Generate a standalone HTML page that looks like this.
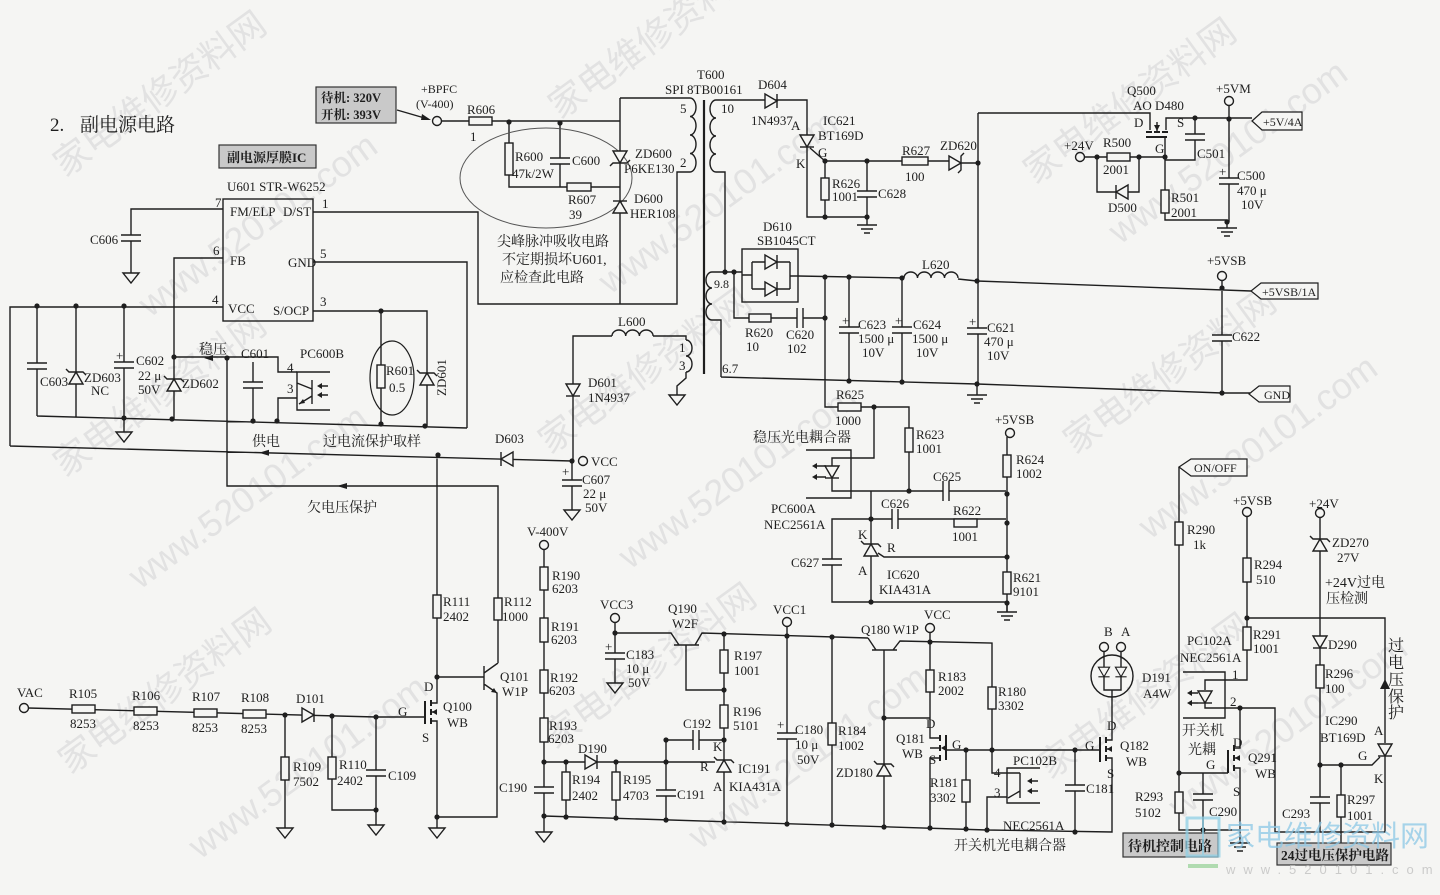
<!DOCTYPE html>
<html><head><meta charset="utf-8"><style>
html,body{margin:0;padding:0;background:#f5f5f3;}
svg{display:block}
.w{fill:none;stroke:#1e1e1e;stroke-width:1.4}
.f{fill:#f5f5f3;stroke:#1e1e1e;stroke-width:1.4}
.b{fill:#1e1e1e;stroke:none}
text{font-family:"Liberation Serif","Noto Serif CJK SC",serif;font-size:13px;fill:#1e1e1e}
.cn{font-family:"Liberation Serif","Noto Serif CJK SC",serif;font-size:14px}
.wm text{font-family:"Liberation Sans","Noto Sans CJK SC",sans-serif;font-size:36px;fill:#e2e2e2}
.vt text{font-family:"Liberation Serif","Noto Serif CJK SC",serif;font-size:16px}
</style></head><body>
<svg width="1440" height="895" viewBox="0 0 1440 895" xmlns="http://www.w3.org/2000/svg">
<defs>
<g id="cv"><rect x="-11" y="-3" width="22" height="6" fill="#f5f5f3"/><path class="w" d="M-10 -3h20M-10 3h20"/></g>
<g id="ch"><rect x="-3" y="-11" width="6" height="22" fill="#f5f5f3"/><path class="w" d="M-3 -10v20M3 -10v20"/></g>
<path id="gnd" class="w" d="M-8 0h16l-8 10z"/>
<path id="earth" class="w" d="M-10 0h20M-6 4h12M-3 8h6"/>
<g id="dd"><path class="f" d="M-7 -6h14l-7 12z"/><path class="w" d="M-7 6h14"/></g>
<g id="du"><path class="f" d="M-7 6h14l-7 -12z"/><path class="w" d="M-7 -6h14"/></g>
<g id="dr"><path class="f" d="M-6 -7v14l12 -7z"/><path class="w" d="M6 -7v14"/></g>
<g id="dl"><path class="f" d="M6 -7v14l-12 -7z"/><path class="w" d="M-6 -7v14"/></g>
<g id="zu"><path class="f" d="M-7 6h14l-7 -12z"/><path class="w" d="M-10 -9l3 3h14l3 3"/></g>
<g id="zd"><path class="f" d="M-7 -6h14l-7 12z"/><path class="w" d="M-10 9l3 -3h14l3 -3"/></g>
<g id="zr"><path class="f" d="M-6 -7v14l12 -7z"/><path class="w" d="M9 -10l-3 3v14l-3 3"/></g>
</defs>
<rect width="1440" height="895" fill="#f5f5f3"/>

<!-- watermarks -->
<g class="wm">
<text transform="translate(65,178) rotate(-36)">家电维修资料网</text>
<text transform="translate(150,318) rotate(-36)">www.520101.com</text>
<text transform="translate(65,478) rotate(-36)">家电维修资料网</text>
<text transform="translate(140,590) rotate(-36)">www.520101.com</text>
<text transform="translate(70,775) rotate(-36)">家电维修资料网</text>
<text transform="translate(200,860) rotate(-36)">www.520101.com</text>
<text transform="translate(560,120) rotate(-36)">家电维修资料网</text>
<text transform="translate(610,295) rotate(-36)">www.520101.com</text>
<text transform="translate(550,455) rotate(-36)">家电维修资料网</text>
<text transform="translate(630,570) rotate(-36)">www.520101.com</text>
<text transform="translate(555,750) rotate(-36)">家电维修资料网</text>
<text transform="translate(700,850) rotate(-36)">www.520101.com</text>
<text transform="translate(1035,185) rotate(-36)">家电维修资料网</text>
<text transform="translate(1120,245) rotate(-36)">www.520101.com</text>
<text transform="translate(1075,455) rotate(-36)">家电维修资料网</text>
<text transform="translate(1150,540) rotate(-36)">www.520101.com</text>
<text transform="translate(1050,780) rotate(-36)">家电维修资料网</text>
<text transform="translate(1180,820) rotate(-36)">www.520101.com</text>
</g>

<!-- title -->
<text x="50" y="131" style="font-size:19px">2.</text>
<text x="80" y="131" class="cn" style="font-size:19px">副电源电路</text>

<!-- grey boxes -->
<rect x="316" y="87" width="80" height="36" fill="#c9c9c9" stroke="#333" stroke-width="1.2"/>
<text x="321" y="102" class="cn" style="font-size:12.5px;font-weight:bold">待机: 320V</text>
<text x="321" y="119" class="cn" style="font-size:12.5px;font-weight:bold">开机: 393V</text>
<rect x="219" y="145" width="97" height="23" fill="#c9c9c9" stroke="#333" stroke-width="1.2"/>
<text x="227" y="162" class="cn" style="font-size:13px;font-weight:bold">副电源厚膜IC</text>
<path class="w" d="M397 110L428 119"/><path class="b" d="M431 120l-9 -6 -1 6z"/>

<!-- ================= wires ================= -->
<path class="w" d="
M223 209H131V273
M223 258H174V419
M223 307H10V446
M10 446L572 461
M37 306V416
M76 306V417
M124 306V432
M37 416L467 428
M174 357H278V372H297
M253 362V421
M297 398H278V421
M227 358V486H498V663
M313 311H427V426
M381 311V424
M313 262H467V428
M313 212H478V304H677V172H690
M441 121H620
M620 98V304
M620 98H690
M509 122V187H620
M560 123V187
M716 100H807V217H867
M716 172H725V272
M712 272H742
M734 272V318H825
M712 320H721V377
M721 377L977 384L1222 393H1250
M742 275H752 M752 262V289 M752 262H790 M752 289H790 M790 262V289 M790 276H798
M798 276L904 278
M958 279L977 281L1251 291
M849 277V381
M902 278V382
M978 113V385
M825 277V407H909V491
M874 407V458H832V466
M832 478V491H1006
M871 491V602
M871 519H1006
M871 519H832V602H1006
M878 553L884 557H1006
M1007 437V612
M810 148L825 161H950
M961 163H978
M825 161V217
M867 161V225
M978 113H1150V130
M1166 130V118H1252
M1165 137V220H1227V228
M1084 157H1165
M1097 157V192H1139V157
M1195 118V160H1165
M1229 105V222
M1222 280V393
M573 461V336H612
M653 336H686V340
M686 372V378L677 386V395
M572 461V510
M544 549V832
M544 762H715
M566 762V817
M616 762V818
M666 740V820
M666 740H724
M724 634V822
M686 645V690H724
M615 633H671L679 645
M674 645H699
M695 645L702 633L868 638
M868 638L876 650
M872 650H897
M893 650L900 641L992 643V773H1020
M615 622V683
M787 626V824
M832 637V825
M884 650V827
M884 718H930
M930 632V738H940
M940 748H930
M940 758H930V828
M946 750H1100
M966 750V829
M1007 797H987V830
M544 816L987 830L1112 832V758H1106
M1075 750V832
M1106 740H1112V690
M1106 749H1112
M1104 651V690H1121V651
M1179 467V830H1240
M1247 516V680H1205V690
M1205 703V708H1275V832H1385V756
M1247 618H1385V743
M1240 708V748H1234
M1234 758H1240
M1234 768H1240V843
M1179 773H1228
M1203 773V830
M1320 517V832
M1320 765H1372L1380 757
M1341 765V843
M28 708L376 717H425
M437 455V703H431
M431 712H437
M431 721H437V828
M437 677H484
M484 666V690
M484 673L498 663
M484 684L497 693V817H437
M285 715V828
M332 716V810H376
M376 717V825
"/>
<!-- coils -->
<path class="w" d="M690 98a6 9.25 0 0 1 0 18.5a6 9.25 0 0 1 0 18.5a6 9.25 0 0 1 0 18.5a6 9.25 0 0 1 0 18.5"/>
<path class="w" d="M716 100a6 9 0 0 0 0 18a6 9 0 0 0 0 18a6 9 0 0 0 0 18a6 9 0 0 0 0 18"/>
<path class="w" d="M712 272a6 8 0 0 0 0 16a6 8 0 0 0 0 16a6 8 0 0 0 0 16"/>
<path class="w" d="M686 340a6 8 0 0 1 0 16a6 8 0 0 1 0 16"/>
<path class="w" d="M612 336a6.85 6 0 0 1 13.7 0a6.85 6 0 0 1 13.7 0a6.85 6 0 0 1 13.7 0"/>
<path class="w" d="M904 278a6.75 6 0 0 1 13.5 0a6.75 6 0 0 1 13.5 0a6.75 6 0 0 1 13.5 0a6.75 6 0 0 1 13.5 0"/>
<path class="w" style="stroke-width:2.2" d="M704 100V374"/>

<!-- U601 box -->
<rect class="w" x="223" y="199" width="90" height="122"/>
<!-- D610 box -->
<rect class="w" x="742" y="249" width="56" height="53"/>
<!-- ellipses -->
<ellipse cx="546" cy="178" rx="86" ry="50" fill="none" stroke="#555" stroke-width="1"/>
<ellipse cx="392" cy="378" rx="22" ry="37" fill="none" stroke="#1e1e1e" stroke-width="1.2"/>

<!-- PC600B -->
<path class="w" d="M330 372H297V410H330M312 380V404M297 383L312 389M312 396L299 404"/>
<path class="b" d="M299 404l6 -1 -2 -4z"/>
<path class="w" d="M328 386h-8M328 395h-8"/><path class="b" d="M317 386l5 -3v6zM317 395l5 -3v6z"/>
<!-- PC600A -->
<path class="w" d="M806 450H851V498H806"/>
<path class="w" d="M826 466h-10M826 477h-10"/><path class="b" d="M812 466l5 -3v6zM812 477l5 -3v6z"/>
<!-- PC102B -->
<path class="w" d="M1040 768H1007V803H1040M1020 776V798M1020 773V779M1020 791L1008 798"/>
<path class="w" d="M1038 781h-8M1038 791h-8"/><path class="b" d="M1027 781l5 -3v6zM1027 791l5 -3v6z"/>
<!-- PC102A -->
<path class="w" d="M1183 672H1225V718H1183"/>
<path class="w" d="M1198 693h-8M1198 703h-8"/><path class="b" d="M1187 693l5 -3v6zM1187 703l5 -3v6z"/>

<!-- MOSFETs -->
<path class="w" style="stroke-width:2" d="M1146 132h6M1154 132h6M1162 132h6M1146 137H1167"/>
<path class="w" d="M1157 132V122"/>
<path class="w" style="stroke-width:2" d="M425 701V724M431 700v6M431 709v6M431 718v6"/>
<path class="w" style="stroke-width:2" d="M946 735V760M940 735v6M940 745v6M940 755v6"/>
<path class="w" style="stroke-width:2" d="M1100 737V762M1106 737v6M1106 746v6M1106 755v6"/>
<path class="w" style="stroke-width:2" d="M1228 750V773M1234 745v6M1234 755v6M1234 765v6"/>
<path class="b" d="M432 712l5 -3v6zM941 748l5 -3v6zM1107 749l5 -3v6zM1235 758l5 -3v6zM1157 131l-3 -6h6z"/>
<!-- Q101 emitter arrow -->
<path class="b" d="M497 693l-6 -1 3 -4z"/>
<!-- D191 -->
<circle cx="1112" cy="676" r="21" class="w"/>
<use href="#dd" transform="translate(1104,672) scale(0.8)"/>
<use href="#dd" transform="translate(1121,672) scale(0.8)"/>

<!-- resistors -->
<g class="f">
<rect x="469" y="117" width="23" height="8"/>
<rect x="505" y="143" width="8" height="32"/>
<rect x="567" y="183" width="24" height="8"/>
<rect x="377" y="365" width="8" height="23"/>
<rect x="749" y="314" width="22" height="8"/>
<rect x="821" y="178" width="8" height="22"/>
<rect x="902" y="157" width="26" height="8"/>
<rect x="838" y="403" width="23" height="8"/>
<rect x="905" y="428" width="8" height="24"/>
<rect x="1003" y="455" width="8" height="22"/>
<rect x="954" y="519" width="23" height="8"/>
<rect x="1003" y="572" width="8" height="22"/>
<rect x="1107" y="153" width="23" height="8"/>
<rect x="1161" y="190" width="8" height="23"/>
<rect x="72" y="705" width="23" height="8"/>
<rect x="134" y="707" width="23" height="8"/>
<rect x="194" y="709" width="23" height="8"/>
<rect x="243" y="710" width="23" height="8"/>
<rect x="281" y="757" width="8" height="23"/>
<rect x="328" y="757" width="8" height="22"/>
<rect x="433" y="595" width="8" height="23"/>
<rect x="494" y="598" width="8" height="22"/>
<rect x="540" y="567" width="8" height="23"/>
<rect x="540" y="618" width="8" height="24"/>
<rect x="540" y="670" width="8" height="23"/>
<rect x="540" y="718" width="8" height="24"/>
<rect x="562" y="772" width="8" height="28"/>
<rect x="612" y="772" width="8" height="28"/>
<rect x="720" y="705" width="8" height="23"/>
<rect x="720" y="650" width="8" height="23"/>
<rect x="828" y="723" width="8" height="22"/>
<rect x="926" y="670" width="8" height="22"/>
<rect x="962" y="780" width="8" height="22"/>
<rect x="988" y="687" width="8" height="22"/>
<rect x="1175" y="522" width="8" height="23"/>
<rect x="1175" y="792" width="8" height="21"/>
<rect x="1243" y="558" width="8" height="24"/>
<rect x="1243" y="627" width="8" height="23"/>
<rect x="1316" y="665" width="8" height="23"/>
<rect x="1337" y="795" width="8" height="22"/>
</g>

<!-- capacitors -->
<use href="#cv" x="131" y="238"/>
<use href="#cv" x="37" y="366"/>
<use href="#cv" x="124" y="365"/>
<use href="#cv" x="253" y="385"/>
<use href="#cv" x="560" y="161"/>
<use href="#ch" x="800" y="318"/>
<use href="#cv" x="867" y="194"/>
<use href="#cv" x="849" y="330"/>
<use href="#cv" x="902" y="330"/>
<use href="#cv" x="977" y="331"/>
<use href="#cv" x="1195" y="137"/>
<use href="#cv" x="1229" y="181"/>
<use href="#cv" x="1222" y="338"/>
<use href="#cv" x="572" y="483"/>
<use href="#ch" x="946" y="491"/>
<use href="#ch" x="895" y="519"/>
<use href="#cv" x="832" y="562"/>
<use href="#cv" x="544" y="790"/>
<use href="#cv" x="666" y="793"/>
<use href="#ch" x="696" y="740"/>
<use href="#cv" x="615" y="656"/>
<use href="#cv" x="787" y="736"/>
<use href="#cv" x="376" y="773"/>
<use href="#cv" x="1075" y="788"/>
<use href="#cv" x="1203" y="797"/>
<use href="#cv" x="1320" y="800"/>

<!-- diodes -->
<use href="#zu" x="76" y="378"/>
<use href="#zu" x="174" y="385"/>
<use href="#zu" x="427" y="379"/>
<use href="#zd" x="620" y="157"/>
<use href="#du" x="620" y="207"/>
<use href="#dr" x="771" y="101"/>
<use href="#dd" x="807" y="141"/>
<use href="#zr" x="955" y="163"/>
<use href="#dr" x="771" y="262"/>
<use href="#dr" x="771" y="289"/>
<use href="#dl" x="1122" y="192"/>
<use href="#dd" x="573" y="390"/>
<use href="#dl" x="507" y="459"/>
<use href="#dd" x="832" y="472"/>
<use href="#zu" x="871" y="550"/>
<use href="#dr" x="308" y="715"/>
<use href="#dr" x="591" y="762"/>
<use href="#zu" x="724" y="766"/>
<use href="#zu" x="884" y="770"/>
<use href="#dd" x="1205" y="697"/>
<use href="#zu" x="1320" y="545"/>
<use href="#dd" x="1320" y="642"/>
<use href="#dd" x="1385" y="750"/>

<!-- grounds -->
<use href="#gnd" x="131" y="273"/>
<use href="#gnd" x="124" y="432"/>
<use href="#gnd" x="677" y="395"/>
<use href="#gnd" x="572" y="510"/>
<use href="#gnd" x="544" y="832"/>
<use href="#gnd" x="615" y="683"/>
<use href="#gnd" x="285" y="828"/>
<use href="#gnd" x="376" y="825"/>
<use href="#gnd" x="437" y="828"/>
<use href="#earth" x="867" y="225"/>
<use href="#earth" x="1227" y="228"/>
<use href="#earth" x="977" y="395"/>
<path class="w" d="M977 385V395M1007 603V612"/>
<use href="#earth" x="1007" y="612"/>
<use href="#earth" x="1240" y="843"/>

<!-- arrows on wires -->
<path class="b" d="M204 358l9 -3v6z"/>
<path class="b" d="M259 452.8l10 -3v6z"/>
<path class="b" d="M337 486l10 -3v6z"/>
<path class="b" d="M1385 679l-5 10h10z"/>

<!-- terminals -->
<g class="f">
<circle cx="437" cy="121" r="4.5"/>
<circle cx="583" cy="461" r="4.5"/>
<circle cx="1229" cy="101" r="4.5"/>
<circle cx="1080" cy="157" r="4.5"/>
<circle cx="1222" cy="276" r="4.5"/>
<circle cx="1010" cy="433" r="4.5"/>
<circle cx="544" cy="545" r="4.5"/>
<circle cx="615" cy="618" r="4.5"/>
<circle cx="787" cy="622" r="4.5"/>
<circle cx="930" cy="628" r="4.5"/>
<circle cx="24" cy="708" r="4.5"/>
<circle cx="1104" cy="647" r="4.5"/>
<circle cx="1121" cy="647" r="4.5"/>
<circle cx="1247" cy="512" r="4.5"/>
<circle cx="1320" cy="513" r="4.5"/>
</g>

<!-- tags -->
<g class="f" style="stroke-width:1.2">
<path d="M1252 121L1262 112H1302V130H1262Z"/>
<path d="M1251 291L1261 283H1318V299H1261Z"/>
<path d="M1249 394L1259 386H1290V402H1259Z"/>
<path d="M1179 467L1191 459H1247V476H1191Z"/>
</g>
<text x="1263" y="126" style="font-size:12px">+5V/4A</text>
<text x="1262" y="296" style="font-size:12px">+5VSB/1A</text>
<text x="1264" y="399" style="font-size:12px">GND</text>
<text x="1194" y="472" style="font-size:12px">ON/OFF</text>

<!-- dots -->
<g class="b">
<circle cx="37" cy="306" r="2.6"/><circle cx="76" cy="306" r="2.6"/><circle cx="124" cy="306" r="2.6"/>
<circle cx="124" cy="418" r="2.6"/><circle cx="172" cy="419" r="2.6"/><circle cx="174" cy="357" r="2.6"/>
<circle cx="227" cy="358" r="2.6"/><circle cx="253" cy="421" r="2.6"/><circle cx="277" cy="421" r="2.6"/>
<circle cx="381" cy="311" r="2.6"/><circle cx="381" cy="424" r="2.6"/><circle cx="425" cy="426" r="2.6"/>
<circle cx="509" cy="122" r="2.6"/><circle cx="560" cy="123" r="2.6"/><circle cx="438" cy="455" r="2.6"/>
<circle cx="572" cy="461" r="2.6"/><circle cx="725" cy="272" r="2.6"/><circle cx="734" cy="272" r="2.6"/>
<circle cx="825" cy="277" r="2.6"/><circle cx="849" cy="277" r="2.6"/><circle cx="902" cy="278" r="2.6"/>
<circle cx="977" cy="281" r="2.6"/><circle cx="825" cy="318" r="2.6"/>
<circle cx="849" cy="381" r="2.6"/><circle cx="902" cy="382" r="2.6"/><circle cx="977" cy="384" r="2.6"/>
<circle cx="825" cy="161" r="2.6"/><circle cx="867" cy="161" r="2.6"/><circle cx="825" cy="217" r="2.6"/>
<circle cx="867" cy="217" r="2.6"/><circle cx="978" cy="163" r="2.6"/>
<circle cx="1097" cy="157" r="2.6"/><circle cx="1139" cy="157" r="2.6"/><circle cx="1165" cy="157" r="2.6"/>
<circle cx="1195" cy="118" r="2.6"/><circle cx="1229" cy="119" r="2.6"/><circle cx="1227" cy="222" r="2.6"/>
<circle cx="1222" cy="288" r="2.6"/><circle cx="1222" cy="393" r="2.6"/>
<circle cx="874" cy="407" r="2.6"/><circle cx="909" cy="491" r="2.6"/><circle cx="1007" cy="494" r="2.6"/>
<circle cx="871" cy="519" r="2.6"/><circle cx="1007" cy="523" r="2.6"/><circle cx="1007" cy="557" r="2.6"/>
<circle cx="871" cy="602" r="2.6"/><circle cx="1007" cy="603" r="2.6"/>
<circle cx="437" cy="677" r="2.6"/><circle cx="437" cy="817" r="2.6"/><circle cx="285" cy="715" r="2.6"/>
<circle cx="332" cy="716" r="2.6"/><circle cx="376" cy="717" r="2.6"/><circle cx="376" cy="810" r="2.6"/>
<circle cx="544" cy="762" r="2.6"/><circle cx="566" cy="762" r="2.6"/><circle cx="616" cy="762" r="2.6"/>
<circle cx="666" cy="762" r="2.6"/><circle cx="666" cy="740" r="2.6"/><circle cx="724" cy="740" r="2.6"/>
<circle cx="724" cy="690" r="2.6"/><circle cx="544" cy="816" r="2.6"/><circle cx="566" cy="817" r="2.6"/>
<circle cx="616" cy="818" r="2.6"/><circle cx="666" cy="820" r="2.6"/><circle cx="724" cy="822" r="2.6"/>
<circle cx="787" cy="824" r="2.6"/><circle cx="832" cy="825" r="2.6"/><circle cx="884" cy="827" r="2.6"/>
<circle cx="930" cy="828" r="2.6"/><circle cx="966" cy="829" r="2.6"/><circle cx="987" cy="830" r="2.6"/>
<circle cx="1075" cy="832" r="2.6"/><circle cx="615" cy="633" r="2.6"/><circle cx="724" cy="634" r="2.6"/>
<circle cx="787" cy="636" r="2.6"/><circle cx="832" cy="637" r="2.6"/><circle cx="930" cy="642" r="2.6"/>
<circle cx="884" cy="718" r="2.6"/><circle cx="966" cy="750" r="2.6"/><circle cx="992" cy="750" r="2.6"/>
<circle cx="1075" cy="750" r="2.6"/><circle cx="1179" cy="773" r="2.6"/><circle cx="1203" cy="830" r="2.6"/>
<circle cx="1240" cy="708" r="2.6"/><circle cx="1247" cy="618" r="2.6"/><circle cx="1320" cy="765" r="2.6"/>
<circle cx="1341" cy="765" r="2.6"/>
</g>

<!-- ================= labels ================= -->
<text x="421" y="93" style="font-size:12px">+BPFC</text>
<text x="416" y="108" style="font-size:12px">(V-400)</text>
<text x="467" y="114">R606</text><text x="470" y="141">1</text>
<text x="227" y="191">U601  STR-W6252</text>
<text x="215" y="207">7</text><text x="230" y="216">FM/ELP</text><text x="283" y="216">D/ST</text><text x="322" y="208">1</text>
<text x="213" y="255">6</text><text x="230" y="265">FB</text><text x="288" y="267">GND</text><text x="320" y="258">5</text>
<text x="212" y="304">4</text><text x="228" y="313">VCC</text><text x="273" y="315">S/OCP</text><text x="320" y="306">3</text>
<text x="90" y="244">C606</text>
<text x="40" y="386">C603</text><text x="84" y="382">ZD603</text><text x="91" y="395">NC</text>
<text x="116" y="360">+</text><text x="136" y="365">C602</text><text x="138" y="380">22 μ</text><text x="138" y="394">50V</text>
<text x="182" y="388">ZD602</text>
<text x="199" y="354" class="cn">稳压</text>
<text x="241" y="358">C601</text><text x="300" y="358">PC600B</text><text x="287" y="372">4</text><text x="287" y="393">3</text>
<text x="386" y="375">R601</text><text x="389" y="392">0.5</text>
<text transform="translate(446,396) rotate(-90)">ZD601</text>
<text x="252" y="446" class="cn">供电</text><text x="323" y="446" class="cn">过电流保护取样</text>
<text x="307" y="512" class="cn">欠电压保护</text>
<text x="495" y="443">D603</text>

<text x="515" y="161">R600</text><text x="512" y="178">47k/2W</text><text x="572" y="165">C600</text>
<text x="568" y="204">R607</text><text x="569" y="219">39</text>
<text x="635" y="158">ZD600</text><text x="624" y="173">P6KE130</text><text x="634" y="203">D600</text><text x="630" y="218">HER108</text>
<text x="497" y="246" class="cn">尖峰脉冲吸收电路</text>
<text x="502" y="264" class="cn">不定期损坏U601,</text>
<text x="500" y="282" class="cn">应检查此电路</text>
<text x="697" y="79">T600</text><text x="665" y="94">SPI 8TB00161</text>
<text x="680" y="113">5</text><text x="680" y="167">2</text><text x="721" y="113">10</text>
<text x="758" y="89">D604</text><text x="751" y="125">1N4937</text>
<text x="791" y="130">A</text><text x="796" y="168">K</text><text x="818" y="157">G</text>
<text x="823" y="125">IC621</text><text x="818" y="140">BT169D</text>
<text x="902" y="155">R627</text><text x="905" y="181">100</text><text x="940" y="150">ZD620</text>
<text x="832" y="188">R626</text><text x="832" y="201">1001</text><text x="878" y="198">C628</text>
<text x="763" y="231">D610</text><text x="757" y="245">SB1045CT</text><text x="922" y="269">L620</text>
<text x="714" y="288" style="font-size:12px">9.8</text>
<text x="745" y="337">R620</text><text x="746" y="351">10</text><text x="786" y="339">C620</text><text x="787" y="353">102</text>
<text x="842" y="325">+</text><text x="858" y="329">C623</text><text x="858" y="343">1500 μ</text><text x="862" y="357">10V</text>
<text x="895" y="325">+</text><text x="913" y="329">C624</text><text x="912" y="343">1500 μ</text><text x="916" y="357">10V</text>
<text x="969" y="326">+</text><text x="987" y="332">C621</text><text x="984" y="346">470 μ</text><text x="987" y="360">10V</text>
<text x="722" y="373">6.7</text>
<text x="618" y="326">L600</text><text x="679" y="352">1</text><text x="679" y="370">3</text>
<text x="588" y="387">D601</text><text x="588" y="402">1N4937</text>
<text x="591" y="466">VCC</text><text x="562" y="476">+</text><text x="582" y="484">C607</text><text x="583" y="498">22 μ</text><text x="585" y="512">50V</text>
<text x="836" y="399">R625</text><text x="835" y="425">1000</text>
<text x="753" y="442" class="cn">稳压光电耦合器</text>
<text x="916" y="439">R623</text><text x="916" y="453">1001</text>
<text x="771" y="513">PC600A</text><text x="764" y="529">NEC2561A</text>
<text x="995" y="424">+5VSB</text><text x="1016" y="464">R624</text><text x="1016" y="478">1002</text>
<text x="933" y="481">C625</text><text x="881" y="508">C626</text><text x="953" y="515">R622</text><text x="952" y="541">1001</text>
<text x="858" y="539">K</text><text x="887" y="552">R</text><text x="858" y="575">A</text>
<text x="887" y="579">IC620</text><text x="879" y="594">KIA431A</text><text x="791" y="567">C627</text>
<text x="1013" y="582">R621</text><text x="1013" y="596">9101</text>

<text x="1127" y="95">Q500</text><text x="1133" y="110">AO D480</text><text x="1134" y="127">D</text><text x="1177" y="127">S</text><text x="1155" y="153">G</text>
<text x="1216" y="93">+5VM</text>
<text x="1064" y="150">+24V</text><text x="1103" y="147">R500</text><text x="1103" y="174">2001</text><text x="1108" y="212">D500</text>
<text x="1197" y="158">C501</text><text x="1219" y="176">+</text><text x="1237" y="180">C500</text><text x="1237" y="195">470 μ</text><text x="1241" y="209">10V</text>
<text x="1171" y="202">R501</text><text x="1171" y="217">2001</text>
<text x="1207" y="265">+5VSB</text><text x="1232" y="341">C622</text>

<text x="17" y="697">VAC</text>
<text x="69" y="698">R105</text><text x="70" y="728">8253</text>
<text x="132" y="700">R106</text><text x="133" y="730">8253</text>
<text x="192" y="701">R107</text><text x="192" y="732">8253</text>
<text x="241" y="702">R108</text><text x="241" y="733">8253</text>
<text x="296" y="703">D101</text>
<text x="293" y="771">R109</text><text x="293" y="786">7502</text>
<text x="339" y="769">R110</text><text x="337" y="785">2402</text><text x="388" y="780">C109</text>
<text x="398" y="716">G</text><text x="424" y="691">D</text><text x="422" y="742">S</text>
<text x="443" y="711">Q100</text><text x="447" y="727">WB</text>
<text x="500" y="681">Q101</text><text x="502" y="696">W1P</text>
<text x="443" y="606">R111</text><text x="443" y="621">2402</text>
<text x="504" y="606">R112</text><text x="502" y="621">1000</text>

<text x="527" y="536">V-400V</text>
<text x="552" y="580">R190</text><text x="552" y="593">6203</text>
<text x="551" y="631">R191</text><text x="551" y="644">6203</text>
<text x="550" y="682">R192</text><text x="549" y="695">6203</text>
<text x="549" y="730">R193</text><text x="548" y="743">6203</text>
<text x="578" y="753">D190</text>
<text x="572" y="784">R194</text><text x="572" y="800">2402</text>
<text x="623" y="784">R195</text><text x="623" y="800">4703</text>
<text x="677" y="799">C191</text><text x="683" y="728">C192</text><text x="499" y="792">C190</text>
<text x="713" y="751">K</text><text x="700" y="771">R</text><text x="713" y="791">A</text>
<text x="738" y="773">IC191</text><text x="729" y="791">KIA431A</text>
<text x="733" y="716">R196</text><text x="733" y="730">5101</text>
<text x="734" y="660">R197</text><text x="734" y="675">1001</text>
<text x="600" y="609">VCC3</text><text x="668" y="613">Q190</text><text x="672" y="628">W2F</text>
<text x="605" y="651">+</text><text x="626" y="659">C183</text><text x="626" y="673">10 μ</text><text x="628" y="687">50V</text>
<text x="773" y="614">VCC1</text><text x="777" y="729">+</text><text x="795" y="734">C180</text><text x="795" y="749">10 μ</text><text x="797" y="764">50V</text>
<text x="838" y="735">R184</text><text x="838" y="750">1002</text><text x="836" y="777">ZD180</text>
<text x="861" y="634">Q180  W1P</text><text x="924" y="619">VCC</text>
<text x="938" y="681">R183</text><text x="938" y="695">2002</text>
<text x="926" y="728">D</text><text x="896" y="743">Q181</text><text x="902" y="758">WB</text>
<text x="952" y="749">G</text><text x="929" y="764">S</text>
<text x="930" y="787">R181</text><text x="930" y="802">3302</text>
<text x="998" y="696">R180</text><text x="998" y="710">3302</text>
<text x="1013" y="765">PC102B</text><text x="994" y="777">4</text><text x="994" y="797">3</text>
<text x="1003" y="830">NEC2561A</text>
<text x="954" y="850" class="cn">开关机光电耦合器</text>

<text x="1104" y="636">B</text><text x="1121" y="636">A</text>
<text x="1142" y="682">D191</text><text x="1143" y="698">A4W</text>
<text x="1107" y="730">D</text><text x="1085" y="750">G</text><text x="1120" y="750">Q182</text><text x="1126" y="766">WB</text>
<text x="1107" y="778">S</text><text x="1086" y="793">C181</text>
<text x="1187" y="534">R290</text><text x="1193" y="549">1k</text>
<text x="1233" y="505">+5VSB</text><text x="1254" y="569">R294</text><text x="1256" y="584">510</text>
<text x="1309" y="508">+24V</text><text x="1332" y="547">ZD270</text><text x="1337" y="562">27V</text>
<text x="1325" y="587" class="cn">+24V过电</text><text x="1326" y="603" class="cn">压检测</text>
<text x="1187" y="645">PC102A</text><text x="1180" y="662">NEC2561A</text>
<text x="1253" y="639">R291</text><text x="1253" y="653">1001</text>
<text x="1232" y="679">1</text><text x="1230" y="706">2</text>
<text x="1328" y="649">D290</text><text x="1325" y="678">R296</text><text x="1325" y="693">100</text>
<text x="1325" y="725">IC290</text><text x="1320" y="742">BT169D</text>
<text x="1182" y="735" class="cn">开关机</text><text x="1188" y="754" class="cn">光耦</text>
<text x="1233" y="747">D</text><text x="1206" y="769">G</text><text x="1248" y="762">Q291</text><text x="1255" y="778">WB</text>
<text x="1233" y="796">S</text>
<text x="1135" y="801">R293</text><text x="1135" y="817">5102</text><text x="1209" y="816">C290</text>
<text x="1374" y="735">A</text><text x="1358" y="760">G</text><text x="1374" y="783">K</text>
<text x="1282" y="818">C293</text><text x="1347" y="804">R297</text><text x="1347" y="820">1001</text>
<g class="vt">
<text x="1388" y="651">过</text><text x="1388" y="668">电</text><text x="1388" y="685">压</text><text x="1388" y="702">保</text><text x="1388" y="718">护</text>
</g>

<!-- bottom-right boxes -->
<rect x="1123" y="833" width="95" height="24" fill="#c9c9c9" stroke="#333" stroke-width="1.2"/>
<text x="1128" y="851" class="cn" style="font-size:14px;font-weight:bold">待机控制电路</text>
<rect x="1277" y="843" width="114" height="22" fill="#c9c9c9" stroke="#333" stroke-width="1.2"/>
<text x="1281" y="860" class="cn" style="font-size:13.5px;font-weight:bold">24过电压保护电路</text>

<!-- logo watermark -->
<g opacity="0.75">
<rect x="1187" y="818" width="32" height="38" fill="none" stroke="#8fd0e6" stroke-width="3"/>
<path d="M1203 818V856" stroke="#8fd0e6" stroke-width="2"/>
<path d="M1188 866h30" stroke="#9ad39a" stroke-width="4"/>
<text x="1226" y="846" style="font-family:'Liberation Sans','Noto Sans CJK SC',sans-serif;font-size:29px;fill:#8cc8e6">家电维修资料网</text>
<text x="1226" y="874" style="font-family:'Liberation Sans',sans-serif;font-size:13px;fill:#bdbdbd;letter-spacing:8px">www.520101.com</text>
</g>
</svg>
</body></html>
